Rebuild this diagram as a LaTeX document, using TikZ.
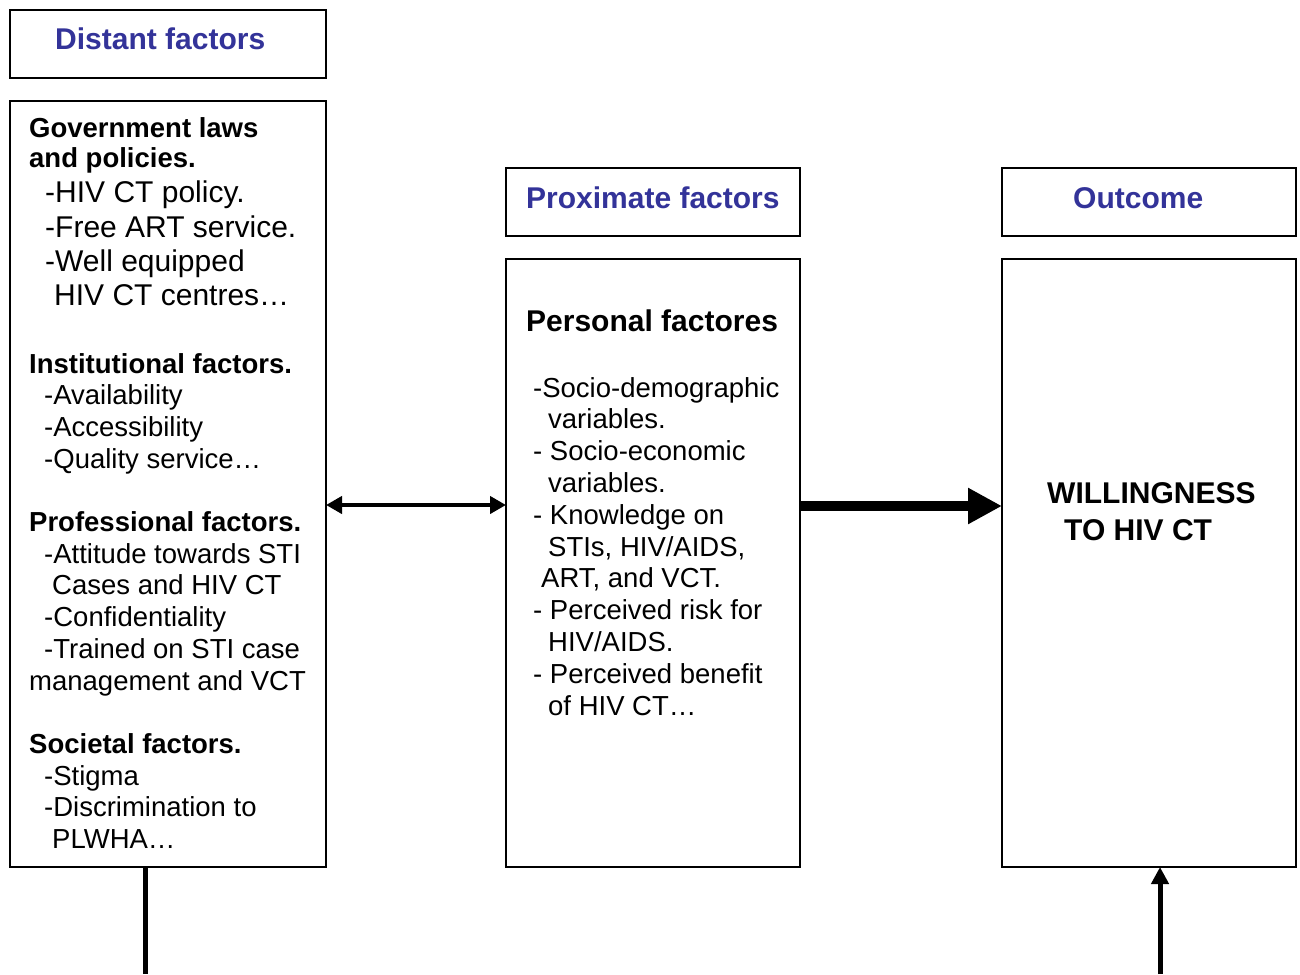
\documentclass[tikz,border=0pt]{standalone}
\usepackage{fontspec}
\setmainfont{Liberation Sans}
\usetikzlibrary{arrows.meta}
\definecolor{titleblue}{RGB}{51,51,153}
\begin{document}
\begin{tikzpicture}[x=1pt,y=-1pt,
  box/.style={draw=black,line width=1.6pt,anchor=north west,inner sep=0pt,outer sep=0pt},
  title/.style={anchor=base west,inner sep=0pt,text=titleblue,font=\fontsize{30}{34}\selectfont\bfseries},
  head/.style={anchor=base west,inner sep=0pt,font=\fontsize{27.5}{32}\selectfont\bfseries},
  big/.style={anchor=base west,inner sep=0pt,font=\fontsize{30}{34}\selectfont},
  body/.style={anchor=base west,inner sep=0pt,font=\fontsize{27.5}{32}\selectfont},
  bighead/.style={anchor=base west,inner sep=0pt,font=\fontsize{30}{34}\selectfont\bfseries},
  conn/.style={draw=black}]
\fill[white] (0,0) rectangle (1300,974);
\useasboundingbox (0,0) rectangle (1300,974);
% boxes
\node[box,minimum width=316pt,minimum height=68pt] (Dt) at (10,10) {};
\node[box,minimum width=316pt,minimum height=766pt] (D) at (10,101) {};
\node[box,minimum width=294pt,minimum height=68pt] (Pt) at (506,168) {};
\node[box,minimum width=294pt,minimum height=608pt] (P) at (506,259) {};
\node[box,minimum width=294pt,minimum height=68pt] (Ot) at (1002,168) {};
\node[box,minimum width=294pt,minimum height=608pt] (O) at (1002,259) {};
% titles
\node[title] (t1) at (55,50) {Distant factors};
\node[title] (t2) at (526,208) {Proximate factors};
\node[title] (t3) at (1073,208) {Outcome};
% left box text
\node[head] (g1) at (29,137) {Government laws};
\node[head] (g2) at (29,167) {and policies.};
\node[big] (g3) at (45,202) {-HIV CT policy.};
\node[big] (g4) at (45,237) {-Free ART service.};
\node[big] (g5) at (45,271) {-Well equipped};
\node[big] (g6) at (54,305) {HIV CT centres…};
\node[head] (i1) at (29,373) {Institutional factors.};
\node[body] (i2) at (44,404.7) {-Availability};
\node[body] (i3) at (44,436.4) {-Accessibility};
\node[body] (i4) at (44,468) {-Quality service…};
\node[head] (p1) at (29,531.4) {Professional factors.};
\node[body] (p2) at (44,563) {-Attitude towards STI};
\node[body] (p3) at (52,594.8) {Cases and HIV CT};
\node[body] (p4) at (44,626.5) {-Confidentiality};
\node[body] (p5) at (44,658) {-Trained on STI case};
\node[body] (p6) at (29,690) {management and VCT};
\node[head] (s1) at (29,753) {Societal factors.};
\node[body] (s2) at (44,785) {-Stigma};
\node[body] (s3) at (44,816.6) {-Discrimination to};
\node[body] (s4) at (52,848) {PLWHA…};
% middle box text
\node[bighead] (m0) at (526,331) {Personal factores};
\node[body] (m1) at (533,397) {-Socio-demographic};
\node[body] (m2) at (548,428.8) {variables.};
\node[body] (m3) at (533,460.6) {- Socio-economic};
\node[body] (m4) at (548,492.4) {variables.};
\node[body] (m5) at (533,524.2) {- Knowledge on};
\node[body] (m6) at (548,556) {STIs, HIV/AIDS,};
\node[body] (m7) at (541,587.8) {ART, and VCT.};
\node[body] (m8) at (533,619.6) {- Perceived risk for};
\node[body] (m9) at (548,651.4) {HIV/AIDS.};
\node[body] (m10) at (533,683.2) {- Perceived benefit};
\node[body] (m11) at (548,715) {of HIV CT…};
% right box text
\node[bighead] (w1) at (1047,503) {WILLINGNESS};
\node[bighead] (w2) at (1064,540) {TO HIV CT};
% connectors
\coordinate (ya) at (0,505);
\coordinate (yb) at (0,506);
\coordinate (bl) at (145,974);
\coordinate (br) at (1160,974);
\draw[conn,line width=4.5pt,{Triangle[length=16pt,width=17pt]}-{Triangle[length=16pt,width=17pt]}] (D.east |- ya) -- (P.west |- ya);
\draw[conn,line width=10pt,-{Triangle[length=34pt,width=34pt]}] (P.east |- yb) -- (O.west |- yb);
\draw[conn,line width=5pt] (D.south -| bl) -- (bl);
\draw[conn,line width=5pt,-{Triangle[length=17pt,width=17pt]}] (br) -- (O.south -| br);
\end{tikzpicture}
\end{document}
